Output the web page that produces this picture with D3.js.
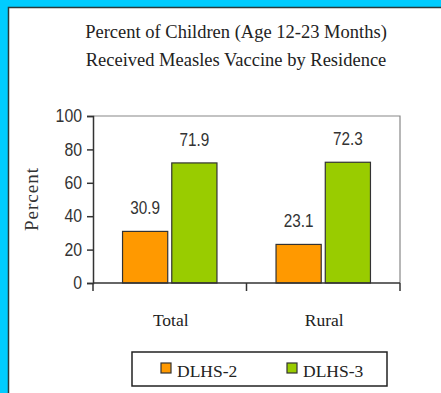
<!DOCTYPE html>
<html><head><meta charset="utf-8">
<script src="https://cdn.jsdelivr.net/npm/d3@7"></script>
<style>html,body{margin:0;padding:0;background:#00CCFF;overflow:hidden}</style>
</head><body>
<svg id="c" width="441" height="393"></svg>
<script>
const titleLines = ["Percent of Children (Age 12-23 Months)", "Received Measles Vaccine by Residence"];
const categories = ["Total", "Rural"];
const seriesNames = ["DLHS-2", "DLHS-3"];
const dlhs2 = [30.9, 23.1];
const dlhs3 = [71.9, 72.3];
const yTicks = [0, 20, 40, 60, 80, 100];
const yLabel = "Percent";
const colors = ["#FF9900", "#99CC00"];

(function () {
const seriesValues = [dlhs2, dlhs3];
const svg = d3.select("#c");
const serif = "'Liberation Serif', 'Times New Roman', serif";
const sans = "'Liberation Sans', Arial, sans-serif";

svg.append("rect").attr("x", 0).attr("y", 0).attr("width", 441).attr("height", 393).attr("fill", "#00CCFF");
svg.append("rect").attr("x", 8.5).attr("y", 7.5).attr("width", 450).attr("height", 400)
  .attr("fill", "#fff").attr("stroke", "#2a3a3a").attr("stroke-width", 1.5);

svg.append("g").selectAll("text").data(titleLines).join("text")
  .attr("x", 236).attr("y", (d, i) => 38 + i * 28)
  .attr("text-anchor", "middle").attr("font-family", serif).attr("font-size", 18.5)
  .attr("fill", "#222").text(d => d);

const pL = 93, pR = 400, pT = 116, pB = 283;
const y = d3.scaleLinear().domain([0, 100]).range([pB, pT]);
const x0 = d3.scaleBand().domain(categories).range([pL, pR]);
const x1 = d3.scaleBand().domain(seriesNames).range([0, x0.bandwidth()]).paddingInner(0.082).paddingOuter(0.6);

svg.append("path").attr("d", `M${pL},${pT}H${pR}V${pB}`)
  .attr("fill", "none").attr("stroke", "#888").attr("stroke-width", 1.2);

const g = svg.append("g");
categories.forEach((c, ci) => {
  seriesNames.forEach((s, si) => {
    const v = seriesValues[si][ci];
    g.append("rect")
      .attr("x", x0(c) + x1(s)).attr("y", y(v))
      .attr("width", x1.bandwidth()).attr("height", y(0) - y(v))
      .attr("fill", colors[si]).attr("stroke", "#333").attr("stroke-width", 1.2);
    const cx = x0(c) + x1(s) + x1.bandwidth() / 2;
    g.append("text")
      .attr("transform", `translate(${cx},${y(v) - 17}) scale(0.85,1)`)
      .attr("text-anchor", "middle").attr("font-family", sans).attr("font-size", 18)
      .attr("fill", "#333").text(v.toFixed(1));
  });
});

const ya = svg.append("g").attr("transform", `translate(${pL},0)`)
  .call(d3.axisLeft(y).tickValues(yTicks).tickSize(6).tickPadding(5).tickFormat(d3.format("d")));
ya.select(".domain").attr("stroke", "#333").attr("stroke-width", 1.5);
ya.selectAll(".tick line").attr("stroke", "#333").attr("stroke-width", 1.5);
ya.selectAll("text").attr("x", 0).attr("transform", "translate(-11,0) scale(0.88,1)")
  .attr("font-family", sans).attr("font-size", 18).attr("fill", "#333");

const xa = svg.append("g");
xa.append("line").attr("x1", pL).attr("x2", pR).attr("y1", pB).attr("y2", pB)
  .attr("stroke", "#333").attr("stroke-width", 1.5);
const bounds = categories.map(c => x0(c)).concat([x0(categories[categories.length - 1]) + x0.bandwidth()]);
xa.selectAll("line.t").data(bounds).join("line").attr("class", "t")
  .attr("x1", d => d).attr("x2", d => d).attr("y1", pB).attr("y2", pB + 8)
  .attr("stroke", "#333").attr("stroke-width", 1.5);
xa.selectAll("text").data(categories).join("text")
  .attr("x", d => x0(d) + x0.bandwidth() / 2 + 1).attr("y", 326)
  .attr("text-anchor", "middle").attr("font-family", serif).attr("font-size", 17.5)
  .attr("fill", "#222").text(d => d);

svg.append("text").attr("transform", "translate(38,199) rotate(-90)")
  .attr("text-anchor", "middle").attr("font-family", serif).attr("font-size", 19)
  .attr("letter-spacing", 1).attr("fill", "#333").text(yLabel);

const lg = svg.append("g");
lg.append("rect").attr("x", 132).attr("y", 352).attr("width", 255).attr("height", 34)
  .attr("fill", "#fff").attr("stroke", "#222").attr("stroke-width", 1.5);
const lx = [161, 287];
seriesNames.forEach((s, i) => {
  lg.append("rect").attr("x", lx[i]).attr("y", 363).attr("width", 10).attr("height", 10)
    .attr("fill", colors[i]).attr("stroke", "#333").attr("stroke-width", 1.2);
  lg.append("text").attr("x", lx[i] + 16).attr("y", 377).attr("font-family", serif)
    .attr("font-size", 17.5).attr("fill", "#222").text(s);
});
})();
</script>
</body></html>
